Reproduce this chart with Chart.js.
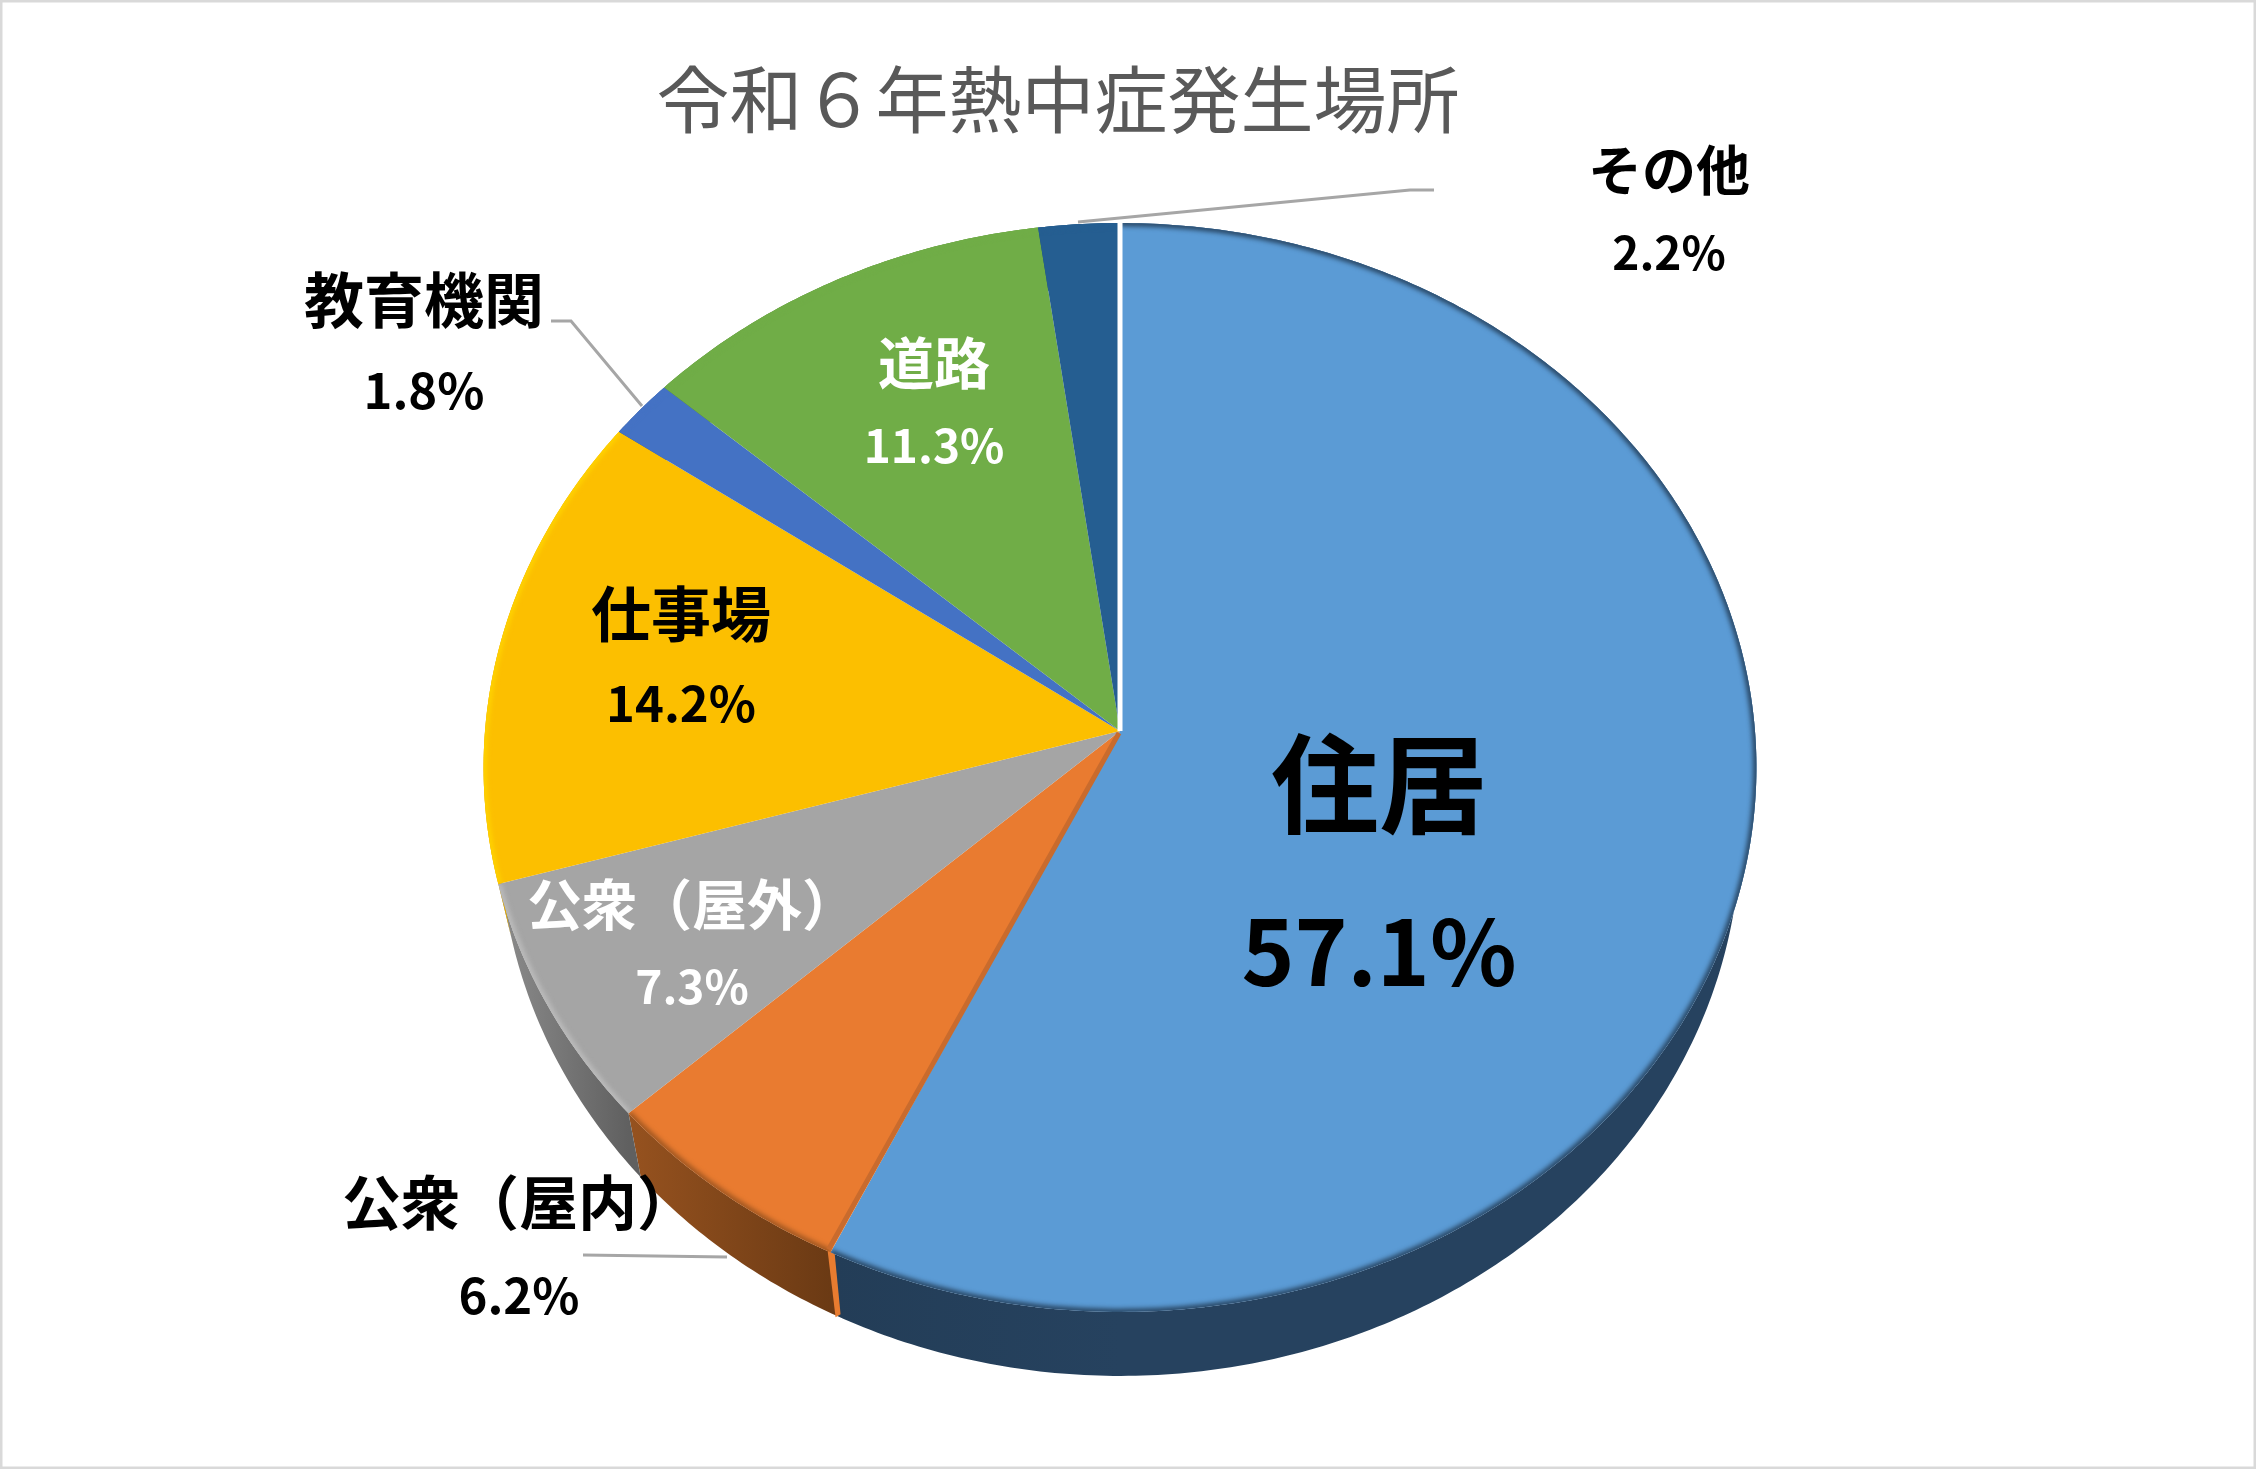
<!DOCTYPE html>
<html lang="ja">
<head>
<meta charset="utf-8">
<title>令和6年熱中症発生場所</title>
<script src="https://cdn.jsdelivr.net/npm/chart.js@4"></script>
<style>
html, body { margin: 0; padding: 0; background: #fff; }
canvas { display: block; }
</style>
</head>
<body>
<canvas id="pieChart" width="2256" height="1469"></canvas>
<script>
// データ
const chartTitle = '令和６年熱中症発生場所';
const categories = ['住居', '公衆（屋内）', '公衆（屋外）', '仕事場', '教育機関', '道路', 'その他'];
const shares = [57.1, 6.2, 7.3, 14.2, 1.8, 11.3, 2.2];
const faceColors = ['#5B9BD5', '#E97B30', '#A5A5A5', '#FCBF00', '#4472C4', '#70AD47', '#255E91'];

// 側面の色 (左端, 右端) とふちの色
const wallColors = [
    ['#26425F', '#233D57'], ['#96521F', '#6B3A14'], ['#8C8C8C', '#606060'], ['#FFD000', '#E0A800'],
    ['#3A5F9E', '#2F4F85'], ['#5E8F3C', '#4E7832'], ['#1F4E79', '#1F4E79']
];
const rimColors = ['#243F5A', '#9A5420', '#BDBDBD', '#FFD400', '#4472C4', '#70AD47', '#255E91'];

// ラベルの位置と文字の大きさ: [x, 名前y, 値y, 名前px, 値px, 色]
const labelLayout = [
    [1379, 784, 952, 108, 90, '#000'],
    [519, 1203, 1295, 59, 49, '#000'],
    [692, 904, 987, 55, 46, '#fff'],
    [681, 614, 703, 60, 49, '#000'],
    [424, 300, 390, 60, 49, '#000'],
    [934, 363, 446, 56, 46, '#fff'],
    [1669, 170, 253, 54, 46, '#000']
];

// 引き出し線
const leaderLines = [
    [[1078, 222], [1410, 190], [1434, 190]],
    [[551, 321], [571, 321], [642, 406]],
    [[583, 1255], [727, 1257]]
];

// 斜めから見た円の形
const apexX = 1120;
const apexY = 731;
const radiusX = 635;
const radiusY = 542;
const perspective = 0.067;
const wallHeight = 64;
const wallInset = 0.975;

// 円の上の角度を画面の座標に変換
function project(angle) {
    const x = Math.cos(angle);
    const y = Math.sin(angle);
    const depth = 1 - perspective * y;
    return [apexX + radiusX * x / depth, apexY + radiusY * y / depth];
}

function traceRim(ctx, start, end) {
    const steps = Math.max(4, Math.ceil(Math.abs(end - start) * 90));
    for (let i = 0; i <= steps; i++) {
        const [x, y] = project(start + (end - start) * i / steps);
        ctx.lineTo(x, y);
    }
}

// 側面の下のふちは少し内側に入る
function traceWallBottom(ctx, start, end) {
    const steps = Math.max(4, Math.ceil(Math.abs(end - start) * 90));
    for (let i = steps; i >= 0; i--) {
        const [x, y] = project(start + (end - start) * i / steps);
        ctx.lineTo(apexX + (x - apexX) * wallInset, y + wallHeight);
    }
}

function drawWall(ctx, arc, index) {
    const grad = ctx.createLinearGradient(project(arc.startAngle)[0], 0, project(arc.endAngle)[0], 0);
    grad.addColorStop(0, wallColors[index][index === 0 ? 0 : 1]);
    grad.addColorStop(1, wallColors[index][index === 0 ? 1 : 0]);
    ctx.beginPath();
    traceRim(ctx, arc.startAngle, arc.endAngle);
    traceWallBottom(ctx, arc.startAngle, arc.endAngle);
    ctx.closePath();
    ctx.fillStyle = grad;
    ctx.fill();
}

function drawFace(ctx, arc, index) {
    ctx.save();
    ctx.beginPath();
    ctx.moveTo(apexX, apexY);
    traceRim(ctx, arc.startAngle, arc.endAngle);
    ctx.closePath();
    ctx.fillStyle = faceColors[index];
    ctx.fill();
    ctx.clip();

    // ふちのぼかし
    ctx.filter = 'blur(2.5px)';
    ctx.beginPath();
    traceRim(ctx, arc.startAngle, arc.endAngle);
    ctx.strokeStyle = rimColors[index];
    ctx.lineWidth = 6;
    ctx.stroke();
    ctx.restore();
}

function drawLine(ctx, points, color, width) {
    ctx.beginPath();
    points.forEach(([x, y], i) => (i ? ctx.lineTo(x, y) : ctx.moveTo(x, y)));
    ctx.strokeStyle = color;
    ctx.lineWidth = width;
    ctx.stroke();
}

const jpFont = '"Noto Sans CJK JP", "Noto Sans", sans-serif';

// 立体の円グラフを描くプラグイン
const pie3dPlugin = {
    id: 'pie3d',
    beforeDatasetsDraw(chart) {
        const ctx = chart.ctx;
        ctx.save();
        // 枠線
        ctx.strokeStyle = '#D9D9D9';
        ctx.lineWidth = 3;
        ctx.strokeRect(1, 1, chart.width - 2, chart.height - 2);

        // 引き出し線は円の下
        leaderLines.forEach(line => drawLine(ctx, line, '#A6A6A6', 3));

        const arcs = chart.getDatasetMeta(0).data;
        arcs.forEach((arc, i) => drawWall(ctx, arc, i));

        // 公衆（屋内）の切り口
        const [cutX, cutY] = project(arcs[0].endAngle);
        ctx.beginPath();
        ctx.moveTo(cutX - 3, cutY - 2);
        ctx.lineTo(cutX + 4, cutY);
        ctx.lineTo(cutX + 10, cutY + wallHeight - 2);
        ctx.lineTo(cutX + 5, cutY + wallHeight + 1);
        ctx.closePath();
        ctx.fillStyle = '#E87C30';
        ctx.fill();

        arcs.forEach((arc, i) => drawFace(ctx, arc, i));

        // 切り口の濃い線と、住居の白い線
        drawLine(ctx, [[apexX - 1, apexY + 2], [cutX - 2, cutY - 3]], '#C96B2D', 5);
        drawLine(ctx, [[apexX, apexY], project(arcs[0].startAngle)], '#fff', 5);
        ctx.restore();
        return false;
    },
    afterDraw(chart) {
        const ctx = chart.ctx;
        ctx.save();
        ctx.textAlign = 'center';
        ctx.textBaseline = 'middle';

        // タイトル
        ctx.font = `400 73px ${jpFont}`;
        ctx.fillStyle = '#595959';
        ctx.fillText(chartTitle, 1058, 99);

        // ラベル
        categories.forEach((name, i) => {
            const [x, nameY, valueY, nameSize, valueSize, color] = labelLayout[i];
            ctx.fillStyle = color;
            ctx.font = `700 ${nameSize}px ${jpFont}`;
            ctx.fillText(name, x, nameY);
            ctx.font = `700 ${valueSize}px ${jpFont}`;
            ctx.fillText(shares[i].toFixed(1) + '%', x, valueY);
        });
        ctx.restore();
    }
};

new Chart(document.getElementById('pieChart').getContext('2d'), {
    type: 'pie',
    data: {
        labels: categories,
        datasets: [{
            data: shares,
            backgroundColor: faceColors,
            borderWidth: 0
        }]
    },
    options: {
        responsive: false,
        devicePixelRatio: 1,
        animation: false,
        plugins: {
            legend: { display: false },
            tooltip: { enabled: false }
        }
    },
    plugins: [pie3dPlugin]
});
</script>
</body>
</html>
